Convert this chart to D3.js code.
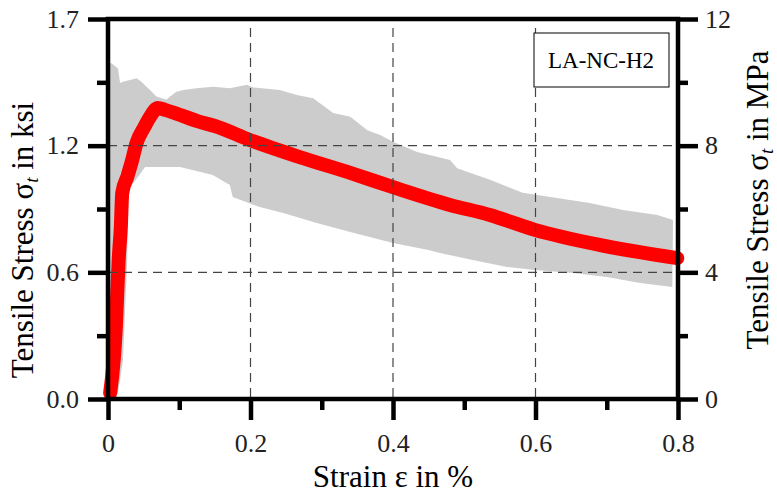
<!DOCTYPE html>
<html>
<head>
<meta charset="utf-8">
<script src="https://cdn.jsdelivr.net/npm/d3@7"></script>
<style>
  body { margin: 0; background: #fff; }
  text { font-family: "Liberation Serif", "Times New Roman", serif; }
</style>
</head>
<body>
<div id="chart"></div>
<script>
// strain in %, stress in MPa
let meanStrain = [0.003, 0.008, 0.011, 0.013, 0.015, 0.018, 0.020, 0.027, 0.034, 0.040, 0.051, 0.059, 0.070,
    0.080, 0.094, 0.129, 0.150, 0.199, 0.269, 0.340, 0.400, 0.480, 0.536, 0.599, 0.691, 0.799]
let meanStress = [0.19, 1.23, 2.27, 3.35, 4.39, 5.43, 6.51, 7.01, 7.55, 8.08, 8.59, 8.91, 9.19,
    9.13, 9.03, 8.75, 8.62, 8.18, 7.64, 7.14, 6.69, 6.13, 5.81, 5.34, 4.86, 4.45]

// scatter envelope of the individual specimens
let upperStrain = [0.000, 0.005, 0.014, 0.017, 0.021, 0.031, 0.040, 0.047, 0.054, 0.059, 0.068, 0.082, 0.087,
    0.096, 0.106, 0.124, 0.148, 0.171, 0.195, 0.204, 0.241, 0.265, 0.288, 0.316, 0.340, 0.364, 0.382, 0.400,
    0.434, 0.480, 0.490, 0.536, 0.582, 0.630, 0.676, 0.723, 0.771, 0.793]
let upperStress = [10.61, 10.60, 10.44, 9.98, 10.02, 10.07, 10.13, 10.02, 9.86, 9.76, 9.55, 9.45, 9.55,
    9.70, 9.76, 9.81, 9.86, 9.81, 9.92, 9.84, 9.76, 9.60, 9.50, 9.03, 8.91, 8.49, 8.34, 8.12,
    7.80, 7.55, 7.29, 6.92, 6.51, 6.35, 6.19, 5.97, 5.81, 5.65]
let lowerStrain = [0.792, 0.747, 0.700, 0.653, 0.599, 0.560, 0.512, 0.466, 0.448, 0.400, 0.340, 0.293, 0.246,
    0.213, 0.175, 0.171, 0.147, 0.101, 0.052, 0.042, 0.031, 0.028, 0.027, 0.024, 0.021, 0.014, 0.000]
let lowerStress = [3.54, 3.66, 3.85, 3.98, 4.07, 4.17, 4.39, 4.61, 4.71, 4.93, 5.27, 5.56, 5.87,
    6.06, 6.38, 6.76, 7.07, 7.33, 7.33, 7.01, 6.69, 6.28, 4.39, 2.81, 1.23, 0.19, 0.00]

let xMajor = [0, 0.2, 0.4, 0.6, 0.8]
let xMinor = [0.1, 0.3, 0.5, 0.7]
let yMajor = [0, 4, 8, 12]
let yMinor = [2, 6, 10]
let xLabels = ["0", "0.2", "0.4", "0.6", "0.8"]
let ksiLabels = ["0.0", "0.6", "1.2", "1.7"]
let mpaLabels = ["0", "4", "8", "12"]
let xGrid = [0.2, 0.4, 0.6]
let yGrid = [4, 8]
let specimen = "LA-NC-H2"

let width = 777, height = 497
let plotLeft = 108, plotRight = 678, plotTop = 19, plotBottom = 399

let svg = d3.select("#chart").append("svg")
    .attr("width", width)
    .attr("height", height)

let x = d3.scaleLinear().domain([0, 0.8]).range([plotLeft, plotRight])
let y = d3.scaleLinear().domain([0, 12]).range([plotBottom, plotTop])

// grey band
let band = upperStrain.map((s, i) => [s, upperStress[i]])
    .concat(lowerStrain.map((s, i) => [s, lowerStress[i]]))
svg.append("path")
    .attr("d", d3.line().x(d => x(d[0])).y(d => y(d[1]))(band) + "Z")
    .attr("fill", "#cccccc")

// mean curve
let mean = meanStrain.map((s, i) => [s, meanStress[i]])
svg.append("path")
    .attr("d", d3.line().x(d => x(d[0])).y(d => y(d[1])).curve(d3.curveMonotoneX)(mean))
    .attr("fill", "none")
    .attr("stroke", "#ff0000")
    .attr("stroke-width", 14)
    .attr("stroke-linecap", "round")
    .attr("stroke-linejoin", "round")

// dashed grid
svg.selectAll("line.vgrid")
    .data(xGrid)
    .enter()
    .append("line")
    .attr("class", "vgrid")
    .attr("x1", d => x(d)).attr("x2", d => x(d))
    .attr("y1", 28).attr("y2", plotBottom)
svg.selectAll("line.hgrid")
    .data(yGrid)
    .enter()
    .append("line")
    .attr("class", "hgrid")
    .attr("x1", plotLeft).attr("x2", plotRight)
    .attr("y1", d => y(d)).attr("y2", d => y(d))
svg.selectAll("line.vgrid, line.hgrid")
    .attr("stroke", "#444")
    .attr("stroke-width", 1.2)
    .attr("stroke-dasharray", "9,6")

// legend box
svg.append("rect")
    .attr("x", 534).attr("y", 33)
    .attr("width", 135).attr("height", 54)
    .attr("fill", "#fff")
    .attr("stroke", "#000")
    .attr("stroke-width", 1)
svg.append("text")
    .attr("x", 601).attr("y", 68)
    .attr("text-anchor", "middle")
    .attr("font-size", 23)
    .text(specimen)

// axes
function styleAxis(g) {
    g.select(".domain").remove()
    g.selectAll(".tick line").attr("stroke", "#000").attr("stroke-width", 4.5)
    g.selectAll("text").attr("font-size", 26).attr("fill", "#222")
        .attr("font-family", "Liberation Serif, Times New Roman, serif")
}

svg.append("g")
    .attr("transform", `translate(0,${plotBottom})`)
    .call(d3.axisBottom(x).tickValues(xMajor).tickSize(21).tickFormat((d, i) => xLabels[i]))
    .call(styleAxis)
    .selectAll("text").attr("y", 53).attr("dy", null)
svg.append("g")
    .attr("transform", `translate(0,${plotBottom})`)
    .call(d3.axisBottom(x).tickValues(xMinor).tickSize(11).tickFormat(""))
    .call(styleAxis)

svg.append("g")
    .attr("transform", `translate(${plotLeft},0)`)
    .call(d3.axisLeft(y).tickValues(yMajor).tickSize(20).tickFormat((d, i) => ksiLabels[i]))
    .call(styleAxis)
    .selectAll("text").attr("x", -29)
svg.append("g")
    .attr("transform", `translate(${plotLeft},0)`)
    .call(d3.axisLeft(y).tickValues(yMinor).tickSize(11).tickFormat(""))
    .call(styleAxis)

svg.append("g")
    .attr("transform", `translate(${plotRight},0)`)
    .call(d3.axisRight(y).tickValues(yMajor).tickSize(20).tickFormat((d, i) => mpaLabels[i]))
    .call(styleAxis)
    .selectAll("text").attr("x", 27)
svg.append("g")
    .attr("transform", `translate(${plotRight},0)`)
    .call(d3.axisRight(y).tickValues(yMinor).tickSize(10).tickFormat(""))
    .call(styleAxis)

svg.append("rect")
    .attr("x", plotLeft).attr("y", plotTop)
    .attr("width", plotRight - plotLeft).attr("height", plotBottom - plotTop)
    .attr("fill", "none")
    .attr("stroke", "#000")
    .attr("stroke-width", 4.5)

// titles
svg.append("text")
    .attr("x", (plotLeft + plotRight) / 2).attr("y", 487)
    .attr("text-anchor", "middle")
    .attr("font-size", 31)
    .text("Strain ε in %")

function stressTitle(sel, unit) {
    sel.append("tspan").text("Tensile Stress σ")
    sel.append("tspan").text("t").attr("font-style", "italic").attr("font-size", 19).attr("dy", 5)
    sel.append("tspan").text(" in " + unit).attr("dy", -5)
}

svg.append("text")
    .attr("transform", "translate(33,240) rotate(-90)")
    .attr("text-anchor", "middle")
    .attr("font-size", 31)
    .call(stressTitle, "ksi")

svg.append("text")
    .attr("transform", "translate(768,200) rotate(-90)")
    .attr("text-anchor", "middle")
    .attr("font-size", 31)
    .call(stressTitle, "MPa")
</script>
</body>
</html>
